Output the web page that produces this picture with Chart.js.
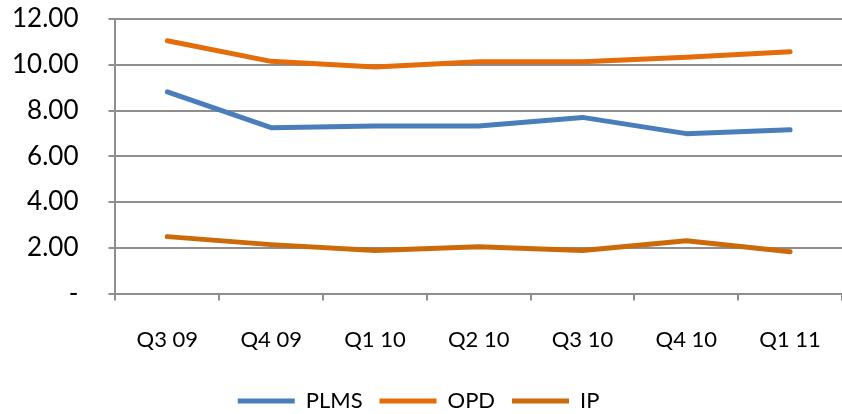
<!DOCTYPE html>
<html>
<head>
<meta charset="utf-8">
<script src="https://cdn.jsdelivr.net/npm/chart.js@4/dist/chart.umd.min.js"></script>
<style>
  html, body { margin: 0; padding: 0; background: #fff; }
  #wrap { width: 842px; height: 414px; }
</style>
</head>
<body>
<div id="wrap"><canvas id="chart"></canvas></div>
<script>
const quarters = ['Q3 09', 'Q4 09', 'Q1 10', 'Q2 10', 'Q3 10', 'Q4 10', 'Q1 11']
const plms = [8.82, 7.25, 7.32, 7.32, 7.70, 6.99, 7.16]
const opd = [11.05, 10.15, 9.90, 10.13, 10.13, 10.33, 10.57]
const ip = [2.49, 2.14, 1.88, 2.05, 1.88, 2.31, 1.83]

const fontFamily = 'Lato, "Open Sans", sans-serif'
const gridColor = '#8e8e8e'
const xTickPad = 26
const yTickPad = 30

function line(label, data, color){
    return {
        label,
        data,
        borderColor: color,
        backgroundColor: color,
        borderWidth: 5,
        pointRadius: 0,
        pointStyle: 'line',
        borderCapStyle: 'round',
        borderJoinStyle: 'round',
        tension: 0
    }
}

// chart.js counts tick padding twice in the axis size and also pads the
// chart area edges with it, undo both
function fitX(scale){
    scale.paddingLeft = 0
    scale.paddingRight = 0
    scale.height -= xTickPad
}

function fitY(scale){
    scale.paddingTop = 0
    scale.paddingBottom = 0
    scale.width -= yTickPad
}

new Chart(document.getElementById('chart'), {
    type: 'line',
    data: {
        labels: quarters,
        datasets: [
            line('PLMS', plms, '#4a7ebb'),
            line('OPD', opd, '#e46c0a'),
            line('IP', ip, '#cc6a0a')
        ]
    },
    options: {
        responsive: true,
        maintainAspectRatio: false,
        animation: false,
        layout: { padding: { top: 19, right: 0, left: 12, bottom: -8 } },
        plugins: {
            tooltip: { enabled: false },
            legend: {
                position: 'bottom',
                labels: {
                    usePointStyle: true,
                    pointStyleWidth: 57,
                    boxHeight: 6,
                    padding: 0,
                    color: '#000',
                    font: { family: fontFamily, size: 22 },
                    generateLabels: chart => {
                        const items = Chart.defaults.plugins.legend.labels.generateLabels(chart)
                        items.forEach(it => { it.text = it.text + '   ' })
                        return items
                    }
                }
            }
        },
        scales: {
            x: {
                offset: true,
                afterFit: fitX,
                border: { color: gridColor, width: 2 },
                grid: {
                    offset: true,
                    drawOnChartArea: false,
                    drawTicks: true,
                    tickLength: 7,
                    color: gridColor,
                    lineWidth: 2
                },
                ticks: {
                    color: '#000',
                    padding: xTickPad,
                    maxRotation: 0,
                    font: { family: fontFamily, size: 22 }
                },
                // empty title used only as spacing above the legend
                title: {
                    display: true,
                    text: ' ',
                    font: { size: 10 },
                    padding: { top: 10, bottom: 15 }
                }
            },
            y: {
                min: 0,
                max: 12,
                afterFit: fitY,
                border: { color: gridColor, width: 2 },
                grid: {
                    color: gridColor,
                    lineWidth: 2,
                    tickLength: 7
                },
                ticks: {
                    stepSize: 2,
                    color: '#000',
                    padding: yTickPad,
                    font: { family: fontFamily, size: 26 },
                    callback: v => v === 0 ? '-' : v.toFixed(2)
                }
            }
        }
    }
})
</script>
</body>
</html>
